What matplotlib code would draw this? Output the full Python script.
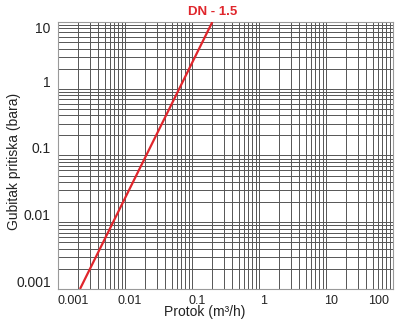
import matplotlib
matplotlib.use("Agg")
import matplotlib.pyplot as plt
from matplotlib.ticker import FixedLocator, LogLocator, NullFormatter
import matplotlib.transforms as mtransforms

plt.rcParams['font.family'] = ['Liberation Sans', 'DejaVu Sans']

# Data
flow = [0.00215, 0.203]          # m3/h
loss = [0.001, 10.0]             # bar
series_label = "DN - 1.5"
x_ticks = [0.001, 0.01, 0.1, 1, 10, 100]
x_tick_labels = ["0.001", "0.01", "0.1", "1", "10", "100"]
y_ticks = [0.001, 0.01, 0.1, 1, 10]
y_tick_labels = ["0.001", "0.01", "0.1", "1", "10"]
x_label = "Protok (m³/h)"
y_label = "Gubitak pritiska (bara)"

fig = plt.figure(figsize=(4.0, 3.25), dpi=100)
ax = fig.add_axes([0.1443, 0.1108, 0.9818 - 0.1443, 0.9323 - 0.1108])

ax.set_xscale('log')
ax.set_yscale('log')
ax.set_xlim(x_ticks[0], x_ticks[-1])
ax.set_ylim(y_ticks[0], y_ticks[-1])

ax.plot(flow, loss, color='#e0262c', lw=1.6, solid_capstyle='butt', zorder=3)
ax.annotate(series_label, xy=(flow[-1], loss[-1]), xytext=(0, 7),
            textcoords='offset points', ha='center', va='center',
            color='#e0262c', fontsize=9.5, fontweight='bold',
            annotation_clip=False)

ax.xaxis.set_major_locator(FixedLocator(x_ticks))
ax.yaxis.set_major_locator(FixedLocator(y_ticks))
ax.xaxis.set_minor_locator(LogLocator(base=10, subs=range(2, 10), numticks=20))
ax.yaxis.set_minor_locator(LogLocator(base=10, subs=range(2, 10), numticks=20))
ax.xaxis.set_minor_formatter(NullFormatter())
ax.yaxis.set_minor_formatter(NullFormatter())
ax.set_xticklabels(x_tick_labels)
ax.set_yticklabels(y_tick_labels)

ax.grid(True, which='both', color='#555555', lw=0.7)
ax.set_axisbelow(True)
ax.tick_params(which='both', length=0)
ax.tick_params(axis='x', labelsize=9, pad=4, colors='#222222')
ax.tick_params(axis='y', labelsize=10, pad=5, colors='#222222')

for s in ax.spines.values():
    s.set_color('#9a9a9a')
    s.set_linewidth(0.8)

# label alignment like the reference
xl = ax.get_xticklabels()
for i, t in enumerate(xl):
    if i == 0:
        t.set_ha('left')
    elif i == len(xl) - 1:
        t.set_ha('right')
        t.set_transform(t.get_transform() + mtransforms.ScaledTranslation(-4/100, 0, fig.dpi_scale_trans))
    else:
        t.set_transform(t.get_transform() + mtransforms.ScaledTranslation(5/100, 0, fig.dpi_scale_trans))
yl = ax.get_yticklabels()
for i, t in enumerate(yl):
    if i == len(yl) - 1:
        t.set_va('top')
    else:
        t.set_va('baseline')
        t.set_transform(t.get_transform() + mtransforms.ScaledTranslation(0, 2/100, fig.dpi_scale_trans))

ax.set_xlabel(x_label, fontsize=10, color='#222222')
ax.set_ylabel(y_label, fontsize=10, color='#222222')
ax.xaxis.set_label_coords(0.44, -0.086)
ax.yaxis.set_label_coords(-0.13, 0.476)
ax.xaxis.label.set_va('center')
ax.yaxis.label.set_va('center')

fig.savefig("out.png", dpi=100)
